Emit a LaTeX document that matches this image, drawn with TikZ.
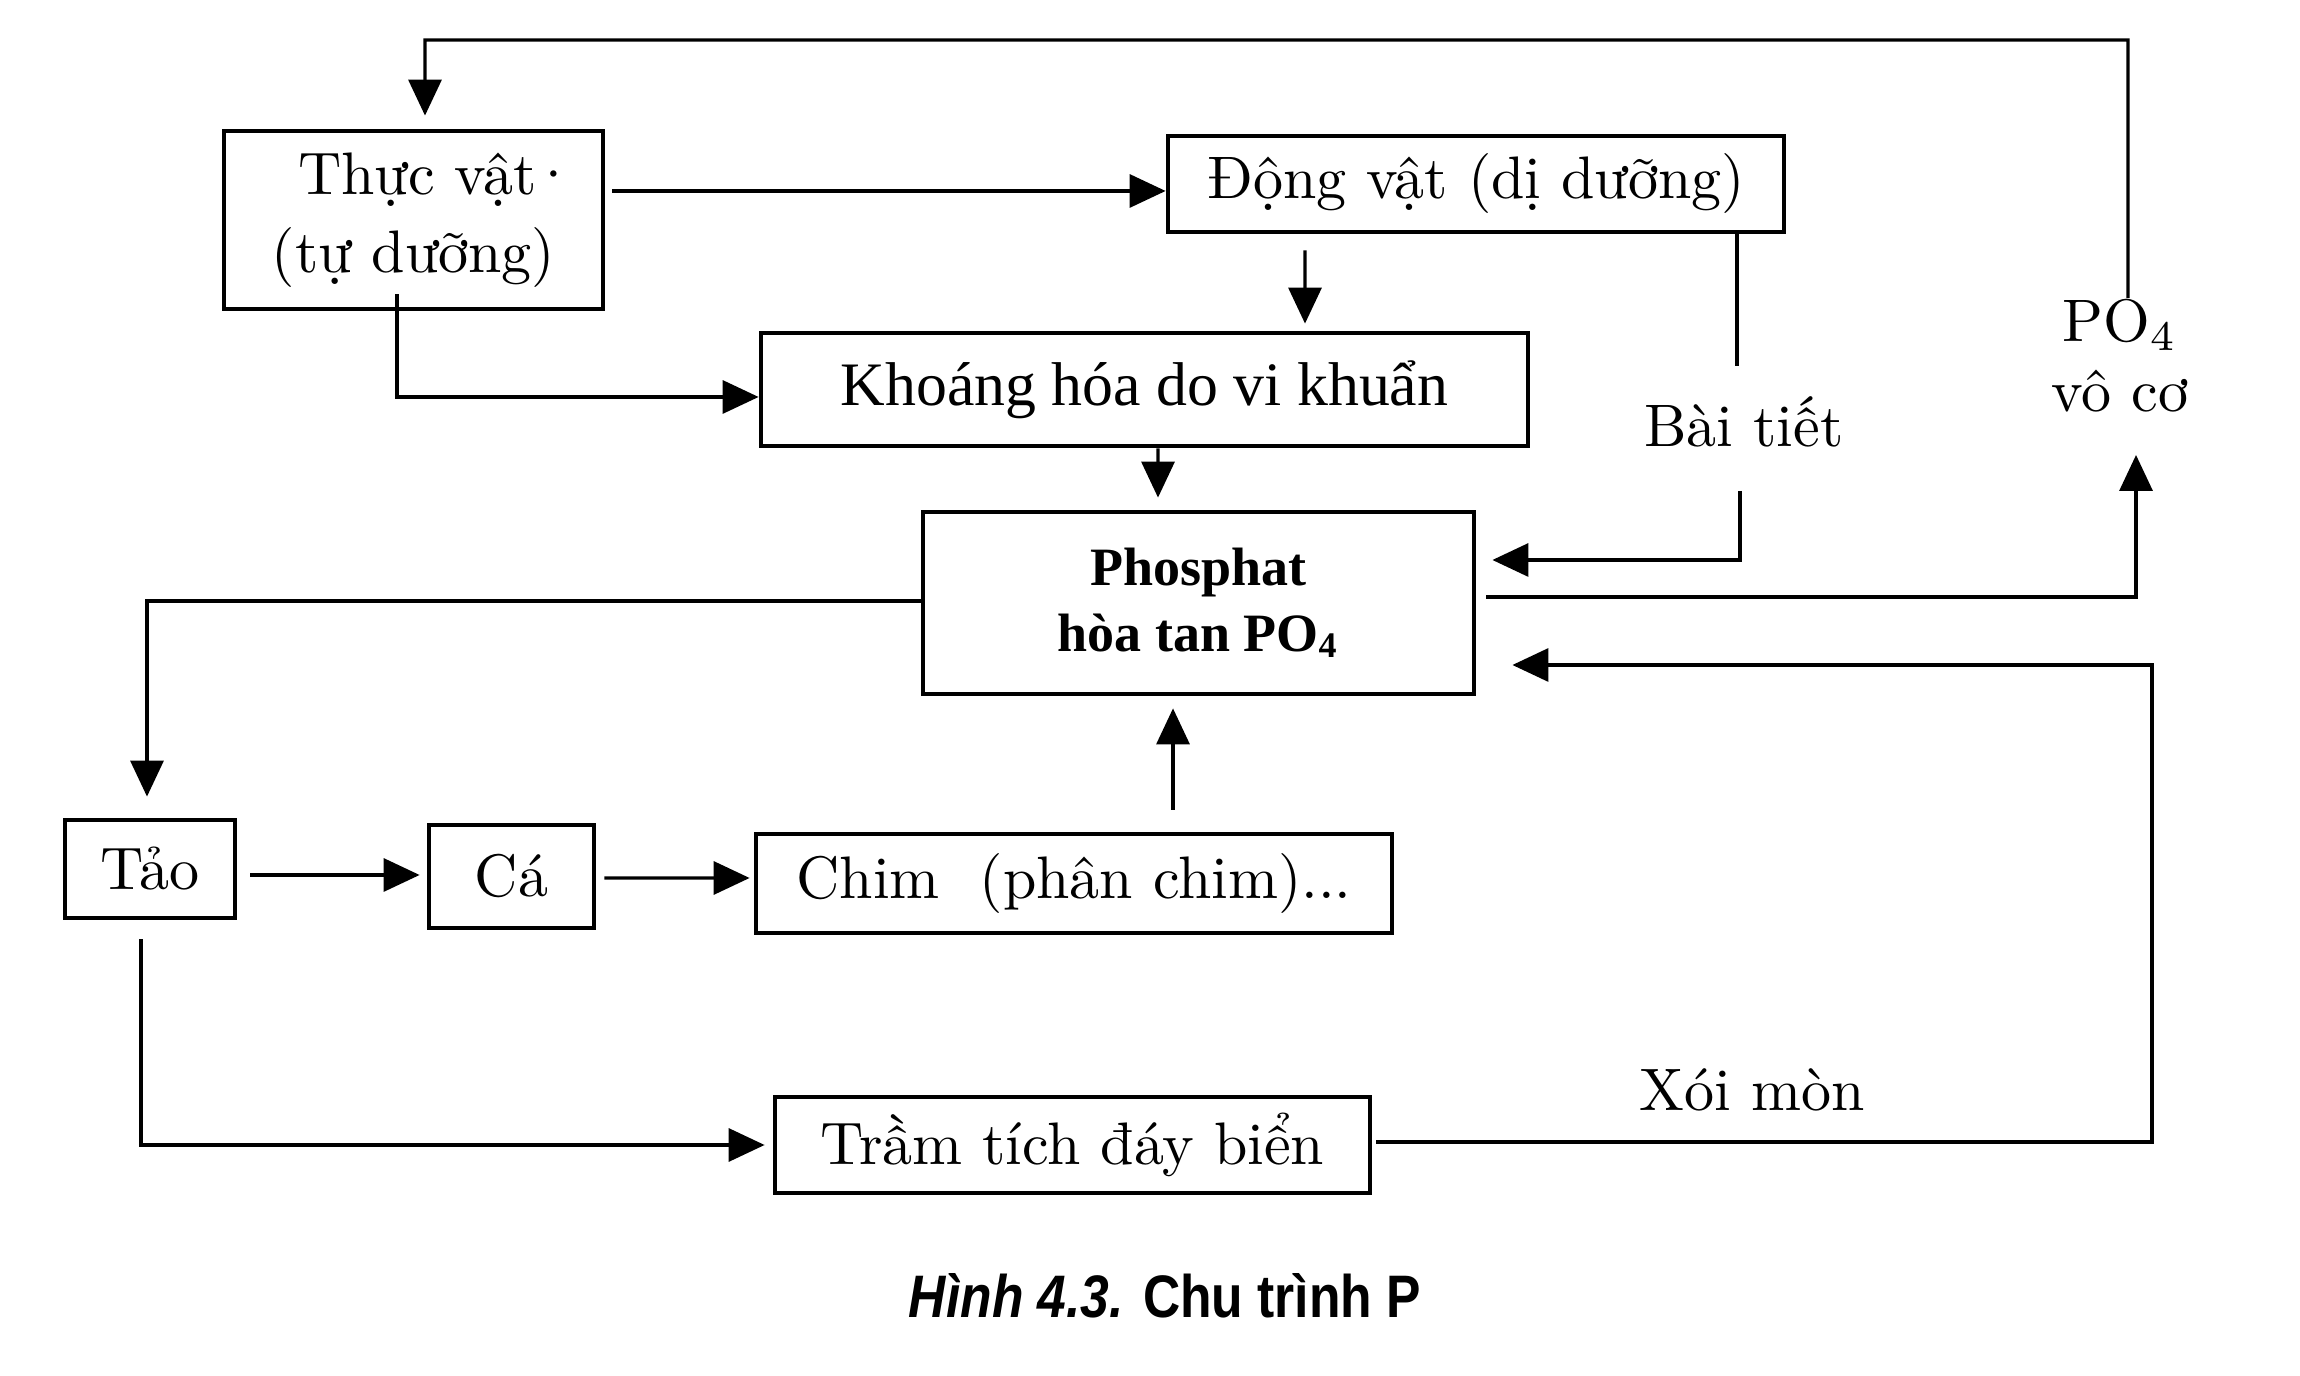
\documentclass[tikz,border=0pt]{standalone}
\usepackage{fontspec}
\newfontfamily\timesf{Liberation Serif}
\newfontfamily\arialf{Liberation Sans}
\usetikzlibrary{arrows.meta,calc}
\newcommand\lmf{\fontsize{10pt}{13pt}\selectfont}
\newcommand\khf{\timesf\fontsize{10.3pt}{12pt}\selectfont}
\newcommand\phf{\timesf\bfseries\fontsize{9pt}{11pt}\selectfont}
\newcommand\capf{\arialf\bfseries\fontsize{10pt}{12pt}\selectfont}
\tikzset{
  box/.style={draw, line width=0.8pt, inner sep=0pt, align=center, font=\lmf},
  lbl/.style={inner sep=0pt, align=center, font=\lmf},
  ln/.style={line width=0.55pt},
  arr/.style={line width=0.55pt, -{Triangle[length=6pt,width=5.5pt]}},
}
\begin{document}
\begin{tikzpicture}[x=0.166667pt,y=-0.166667pt]
\fill[white] (0,0) rectangle (2300,1376);
\useasboundingbox (0,0) rectangle (2300,1376);

% boxes
\node[box, minimum width=379pt/6, minimum height=178pt/6] (thuc) at (413.5,220) {\hspace*{0.8em}Thực vật\kern-0.1em·\\(tự dưỡng)};
\node[box, minimum width=616pt/6, minimum height=96pt/6] (dong) at (1476,184) {Động vật (dị dưỡng)};
\node[box, font=\khf, minimum width=767pt/6, minimum height=113pt/6] (khoang) at (1144.5,389.5) {Khoáng hóa do vi khuẩn};
\node[box, font=\phf, minimum width=551pt/6, minimum height=182pt/6] (phos) at (1198.5,603) {Phosphat\\hòa tan PO\textsubscript{4}};
\node[box, minimum width=170pt/6, minimum height=98pt/6] (tao) at (150,869) {Tảo};
\node[box, minimum width=165pt/6, minimum height=103pt/6] (ca) at (511.5,876.5) {Cá};
\node[box, minimum width=636pt/6, minimum height=99pt/6] (chim) at (1074,883.5) {Chim\ \ (phân chim)...};
\node[box, minimum width=595pt/6, minimum height=96pt/6] (tram) at (1072.5,1145) {Trầm tích đáy biển};

% labels
\node[lbl] (bai) at (1744,422) {Bài tiết};
\node[lbl, font={\fontsize{10pt}{11.7pt}\selectfont}] (po4) at (2120,356) {PO\textsubscript{4}\\vô cơ};
\node[lbl] (xoi) at (1752,1090) {Xói mòn};
\node[lbl, font=\capf] (cap) at (1165,1296) {\scalebox{0.86}[1]{\textit{Hình 4.3.} Chu trình P}};

% turning points
\coordinate (c1) at (2128,40);
\coordinate (c2) at (425,40);
\coordinate (b1) at (1737,366);
\coordinate (b2) at (1740,491);
\coordinate (b3) at (1740,560);
\coordinate (p1) at (2136,597);
\coordinate (p2) at (2136,455);
\coordinate (e1) at (2152,1142);
\coordinate (e2) at (2152,665);

% connectors
\draw[arr] ($(po4.north)+(8,0)$) -- (c1) -- (c2) -- ($(thuc.north)+(11.5,-13)$);
\draw[arr] ($(thuc.east)+(7,-29)$) -- ($(dong.west)+(0,7)$);
\draw[arr] ($(thuc.south)+(-16.5,-17)$) |- ($(khoang.west)+(0,7.5)$);
\draw[arr] ($(dong.south)+(-171,16)$) -- ($(khoang.north)+(160.5,-7)$);
\draw[ln] (dong.south -| b1) -- (b1);
\draw[arr] (b2) -- (b3) -- ($(phos.east |- b3)+(16,0)$);
\draw[arr] ($(khoang.south)+(13.5,0)$) -- ($(phos.north)+(-40.5,-12)$);
\draw[arr] ($(phos.east |- p1)+(10,0)$) -- (p1) -- (p2);
\draw[arr] ($(phos.west)+(0,-2)$) -| ($(tao.north)+(-3,-21)$);
\draw[arr] ($(tao.east)+(13,6)$) -- ($(ca.west)+(-7,-1.5)$);
\draw[arr] ($(ca.east)+(8,1.5)$) -- ($(chim.west)+(-4,-5.5)$);
\draw[arr] ($(chim.north)+(99,-22)$) -- ($(phos.south)+(-25.5,12)$);
\draw[arr] ($(tao.south)+(-9,19)$) |- ($(tram.west)+(-8,0)$);
\draw[arr] ($(tram.east)+(4,-3)$) -- (e1) -- (e2) -- ($(phos.east |- e2)+(36,0)$);
\end{tikzpicture}
\end{document}
